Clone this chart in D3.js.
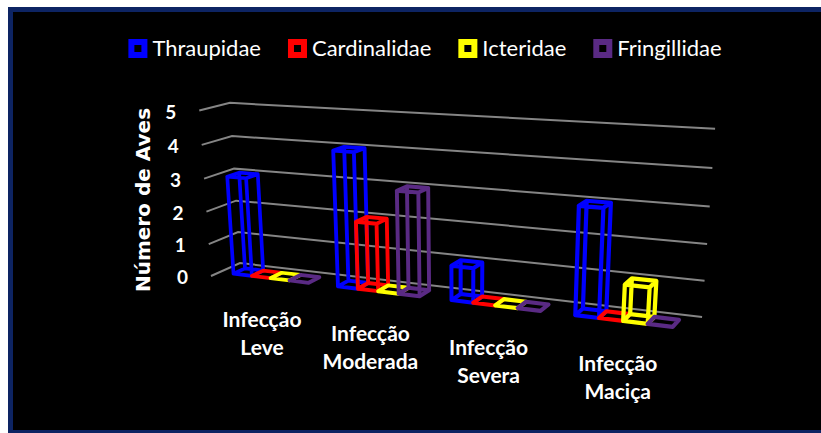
<!DOCTYPE html>
<html>
<head>
<meta charset="utf-8">
<script src="https://cdn.jsdelivr.net/npm/d3@7/dist/d3.min.js"></script>
<style>
  body { margin: 0; background: #fff; }
  svg { display: block; }
</style>
</head>
<body>
<div id="chart"></div>
<script>
// data
var categories = [["Infecção", "Leve"], ["Infecção", "Moderada"], ["Infecção", "Severa"], ["Infecção", "Maciça"]];
var seriesNames = ["Thraupidae", "Cardinalidae", "Icteridae", "Fringillidae"];
var thraupidae = [3, 4, 1, 3];
var cardinalidae = [0, 2, 0, 0];
var icteridae = [0, 0, 0, 1];
var fringillidae = [0, 3, 0, 0];
var yTicks = [0, 1, 2, 3, 4, 5];
var colours = ["#0000ff", "#ff0000", "#ffff00", "#5a2a84"];

var seriesValues = [thraupidae, cardinalidae, icteridae, fringillidae];

var width = 821, height = 433;

var svg = d3.select("#chart")
    .append("svg")
    .attr("width", width)
    .attr("height", height);

// frame
svg.append("rect").attr("x", 8).attr("y", 7).attr("width", 840).attr("height", 440).attr("fill", "#0d2463");
svg.append("rect").attr("x", 13).attr("y", 12).attr("width", 840).attr("height", 418).attr("fill", "#000");

// world scales: x along categories 0..1, y value 0..1, z depth 0 (back) .. 1 (front)
var x = d3.scaleBand().domain(d3.range(categories.length)).range([0, 1])
    .paddingInner(0.2727).paddingOuter(0.1364);
var xs = d3.scaleBand().domain(d3.range(seriesNames.length)).range([0, x.bandwidth()]);
var y = d3.scaleLinear().domain([0, 5]).range([0, 1]);

// perspective (three vanishing points)
var O = [240, 263], VX = [-2279, -31], VY = [461, 3801], VZ = [1060, -105];
var a = -0.155, b = -0.0433, c = -0.03416;

function project(X, Y, Z) {
    var w = 1 + a * X + b * Y + c * Z;
    return [(O[0] + a * X * VX[0] + b * Y * VY[0] + c * Z * VZ[0]) / w,
            (O[1] + a * X * VX[1] + b * Y * VY[1] + c * Z * VZ[1]) / w, w];
}

// gridlines: left wall + back wall
svg.append("g").selectAll("path")
    .data(yTicks)
    .enter().append("path")
    .attr("d", function (t) {
        return d3.line()([project(0, y(t), 1), project(0, y(t), 0), project(1, y(t), 0)]);
    })
    .attr("fill", "none")
    .attr("stroke", "#858585")
    .attr("stroke-width", 2);

// tick labels
svg.append("g").selectAll("text")
    .data(yTicks)
    .enter().append("text")
    .attr("x", function (t) { return project(0, y(t), 1)[0] - 23; })
    .attr("y", function (t) { return project(0, y(t), 1)[1] + 8; })
    .attr("text-anchor", "end")
    .attr("fill", "#fff")
    .style("font", "bold 19px Lato")
    .text(function (t) { return t; });

// axis title
svg.append("text")
    .attr("transform", "translate(150,200) rotate(-90)")
    .attr("text-anchor", "middle")
    .attr("fill", "#fff")
    .style("font", "bold 20px 'DejaVu Sans'")
    .text("Número de Aves");

// bars as wireframe boxes
var bars = [];
categories.forEach(function (cat, i) {
    seriesValues.forEach(function (vals, j) {
        bars.push({ i: i, j: j, v: vals[i] });
    });
});

var z0 = 0.3, z1 = 0.7;

svg.append("g").selectAll("path")
    .data(bars)
    .enter().append("path")
    .attr("d", function (d) {
        var x0 = x(d.i) + xs(d.j), x1 = x0 + xs.bandwidth();
        var h = y(d.v);
        var pts = function (Y) {
            return [project(x0, Y, z1), project(x1, Y, z1), project(x1, Y, z0), project(x0, Y, z0)];
        };
        var bot = pts(0), top = pts(h);
        var p = d3.path();
        [bot, top].forEach(function (q) {
            p.moveTo(q[0][0], q[0][1]);
            for (var k = 1; k < 4; k++) p.lineTo(q[k][0], q[k][1]);
            p.closePath();
        });
        for (var k = 0; k < 4; k++) {
            p.moveTo(bot[k][0], bot[k][1]);
            p.lineTo(top[k][0], top[k][1]);
        }
        return p.toString();
    })
    .attr("fill", "none")
    .attr("stroke", function (d) { return colours[d.j]; })
    .attr("stroke-width", function (d) {
        return 3.6 / project(x(d.i) + xs(d.j), 0, 0.5)[2];
    })
    .attr("stroke-linejoin", "round");

// category labels
var catLabels = svg.append("g").selectAll("text")
    .data(categories)
    .enter().append("text")
    .attr("text-anchor", "middle")
    .attr("fill", "#fff")
    .style("font", "bold 21px Lato");

catLabels.each(function (d, i) {
    var p = project(x(i) + x.bandwidth() / 2, 0, 1);
    var t = d3.select(this);
    d.forEach(function (line, k) {
        t.append("tspan").attr("x", p[0]).attr("y", p[1] + 45 + k * 28).text(line);
    });
});

// legend
var legend = svg.append("g");
var items = legend.selectAll("g")
    .data(seriesNames)
    .enter().append("g");

items.append("rect")
    .attr("width", 19).attr("height", 19).attr("y", 39)
    .attr("fill", function (d, i) { return colours[i]; });
items.append("rect")
    .attr("width", 7).attr("height", 7).attr("x", 6).attr("y", 45)
    .attr("fill", "#000");
items.append("text")
    .attr("x", 24).attr("y", 56)
    .attr("fill", "#fff")
    .style("font", "22px Lato")
    .text(function (d) { return d; });

var offs = [], cur = 0;
items.each(function () {
    offs.push(cur);
    cur += 24 + d3.select(this).select("text").node().getComputedTextLength() + 27;
});
var total = cur - 27;
var start = 425 - total / 2;
items.attr("transform", function (d, i) { return "translate(" + (start + offs[i]) + ",0)"; });
</script>
</body>
</html>
